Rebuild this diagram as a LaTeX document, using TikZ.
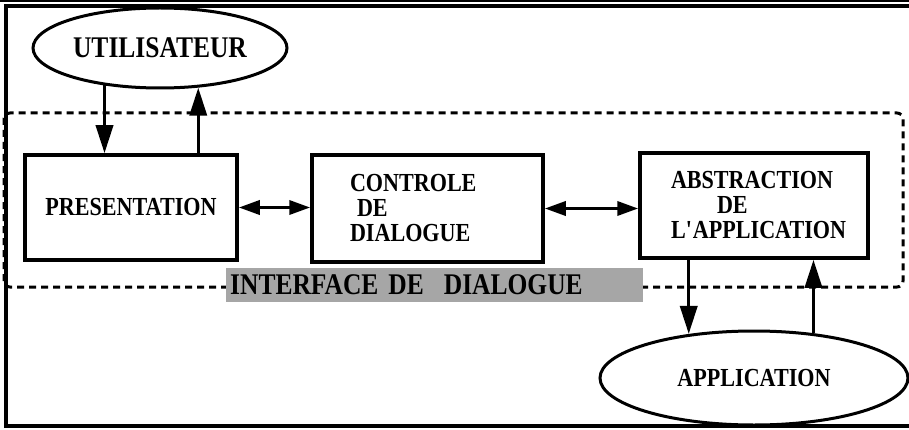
\documentclass[tikz,border=0pt]{standalone}
\usepackage{fontspec}
\setmainfont{Liberation Serif}[FakeStretch=0.85]
\usetikzlibrary{shapes.geometric,arrows.meta}

\tikzset{
  box/.style={draw, line width=3.5pt, rectangle, font=\bfseries\fontsize{26}{25}\selectfont},
  oval/.style={draw, line width=3pt, ellipse, inner sep=0pt},
  flow/.style={line width=3.5pt, -{Triangle[length=28pt,width=17pt]}},
  duplex/.style={line width=3.5pt, {Triangle[length=21pt,width=14pt]}-{Triangle[length=21pt,width=14pt]}},
}

\begin{document}
\begin{tikzpicture}[x=1pt,y=1pt]
        \useasboundingbox (0,0) rectangle (909,429);
        % page frame
        \draw[line width=1.5pt] (0,428) -- (909,428);
        \draw[line width=3.5pt] (909,423) -- (6,423) -- (6,3) -- (909,3);

        % dialogue interface zone
        \draw[line width=3pt, dash pattern=on 7pt off 5pt, rounded corners=6pt] (4,142) rectangle (903,316);
        \node[anchor=west, fill=black!35, minimum height=34pt, text width=409pt, inner xsep=4pt, inner ysep=0pt,
              align=left, font=\bfseries\fontsize{30}{30}\selectfont] (iface) at (226,144) {INTERFACE DE\ \ DIALOGUE};

        \node[oval, minimum width=254pt, minimum height=80pt, font=\bfseries\fontsize{30}{30}\selectfont] (user) at (160,381) {UTILISATEUR};
        \node[oval, minimum width=308pt, minimum height=94pt, font=\bfseries\fontsize{26}{26}\selectfont] (app) at (754,51) {APPLICATION};

        \node[box, minimum width=212pt, minimum height=105pt] (pres) at (131,221.5) {PRESENTATION};
        \node[box, minimum width=231pt, minimum height=107pt, text width=155pt, inner xsep=38pt, align=left] (ctrl) at (427.5,220.5)
             {CONTROLE\\\hspace*{7pt}DE\\DIALOGUE};
        \node[box, minimum width=228pt, minimum height=105pt, text width=166pt, inner xsep=31pt, align=left] (abs) at (754,223.5)
             {ABSTRACTION\\\hspace*{46pt}DE\\L\textquotesingle APPLICATION};

        % exchanges
        \draw[flow] (user.214.5) -- (user.214.5 |- pres.north);
        \draw[flow] (pres.north -| user.314) -- (user.314);
        \draw[duplex] (pres.east) -- (pres.east -| ctrl.west);
        \draw[duplex] (ctrl.east) -- (ctrl.east -| abs.west);
        \draw[flow] (abs.south -| app.146.3) -- (app.146.3);
        \draw[flow] (app.37.5) -- (app.37.5 |- abs.south);
\end{tikzpicture}
\end{document}
